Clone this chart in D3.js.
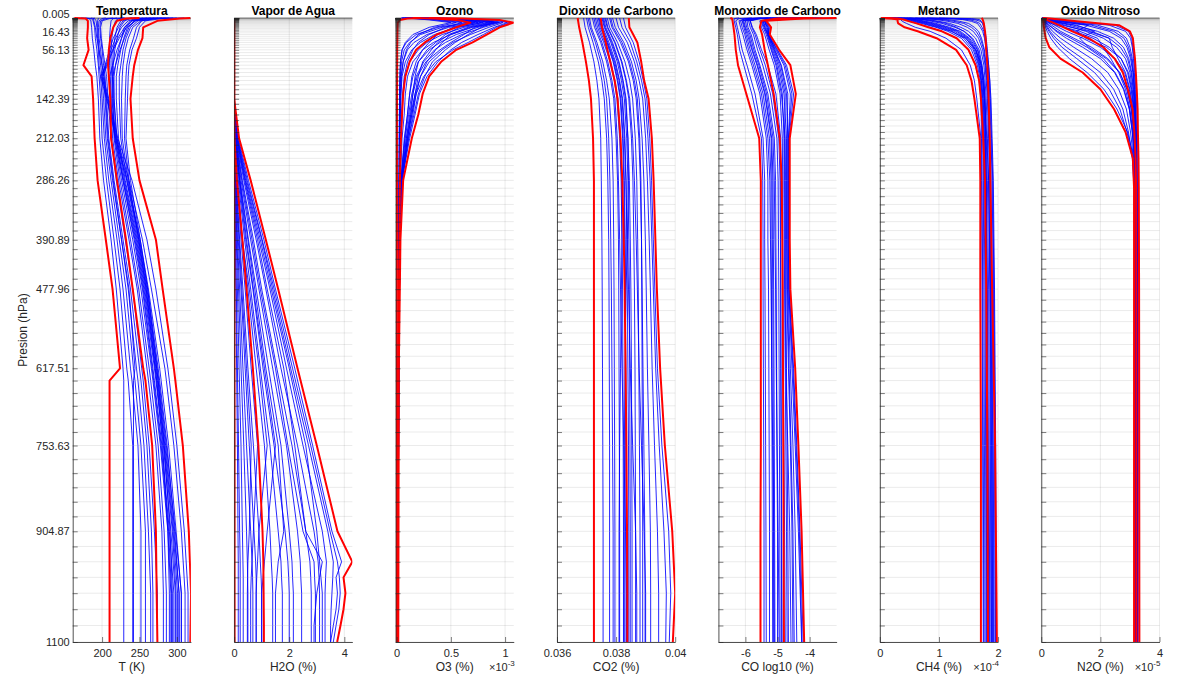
<!DOCTYPE html>
<html><head><meta charset="utf-8">
<script src="https://cdn.jsdelivr.net/npm/d3@7"></script>
<style>
body{margin:0;background:#fff}
svg{display:block}
text{font-family:"Liberation Sans",Arial,Helvetica,sans-serif}
</style>
</head><body>
<svg id="c" width="1200" height="682"></svg>
<script>
// ---- pressure levels (AIRS 101 levels, hPa) ----
const levels = [0.005,0.0161,0.0384,0.0769,0.137,0.2244,0.3454,0.5064,0.714,0.9753,1.2972,1.6872,2.1526,2.7009,3.3398,4.077,4.9204,5.8776,6.9567,8.1655,9.5119,11.0038,12.6492,14.4559,16.4318,18.5847,20.9224,23.4526,26.1829,29.121,32.2744,35.6505,39.2566,43.1001,47.1882,51.5278,56.126,60.9895,66.1253,71.5398,77.2396,83.231,89.5204,96.1138,103.0172,110.2366,117.7775,125.6456,133.8462,142.3848,151.2664,160.4959,170.0784,180.0183,190.3203,200.9887,212.0277,223.4415,235.2338,247.4085,259.9691,272.9191,286.2617,300,314.1369,328.6753,343.6176,358.9665,374.7241,390.8926,407.4738,424.4698,441.8819,459.7118,477.9607,496.6298,515.72,535.2322,555.1669,575.5248,596.3062,617.5112,639.1398,661.192,683.6673,706.5654,729.8857,753.6275,777.7897,802.3714,827.3713,852.788,878.6201,904.8659,931.5236,958.5911,986.0666,1013.948,1042.232,1070.917,1100];
const yLabelValues = [0.005,16.4318,56.126,142.3848,212.0277,286.2617,390.8926,477.9607,617.5112,753.6275,904.8659,1100];
const yLabelText = ["0.005","16.43","56.13","142.39","212.03","286.26","390.89","477.96","617.51","753.63","904.87","1100"];

// ---- Temperatura (K) ----
const tLev = [0.005,1,5,16.43,35.65,56.13,83.23,103.02,142.39,212.03,286.26,390.89,477.96,617.51,639.14,753.63,904.87,1013.95,1100];
const tTicks = [200,250,300];
const tMin  = [163,178,181,181,180,182,175,186,188,190,194,205,214,224,210,210,210,210,210];
const tMean = [250,232,220,215,211,209,208,209,211,212,220,232,241,255,258,267,272,273,274];
const tMax  = [318,304,274,255,254,248,243,241,238,241,250,272,281,296,298,308,316,319,318];
const tBlue = [
 [172,183,185,186,187,189,191,193,195,197,202,212,219,228,229,229,229,229,229],
 [178,186,188,190,191,193,195,196,198,200,206,216,224,233,235,241,241,241,241],
 [185,190,192,193,194,195,196,198,200,203,209,220,228,238,240,248,252,252,252],
 [195,195,194,194,195,196,198,200,202,205,212,223,232,242,244,252,258,258,258],
 [205,200,196,195,196,198,200,202,204,207,214,226,235,246,248,256,262,265,265],
 [215,205,198,197,198,200,202,204,206,209,216,228,238,250,252,260,266,268,268],
 [190,188,189,191,193,196,200,203,205,208,215,226,236,244,242,242,242,242,242],
 [230,210,200,198,199,201,204,206,208,212,219,231,241,253,255,263,270,274,274],
 [240,235,228,222,215,210,204,200,207,218,233,250,261,275,277,287,297,303,303],
 [255,245,235,226,218,212,205,198,206,219,234,251,262,277,279,289,299,306,306],
 [270,252,240,230,221,214,206,199,208,220,236,254,266,284,286,296,306,311,311],
 [285,260,245,233,223,215,207,201,209,221,240,260,272,288,290,300,310,315,315],
 [260,248,238,230,226,222,218,216,216,220,230,246,257,271,273,283,294,299,299],
 [275,255,243,234,229,225,221,219,219,222,231,247,258,272,274,284,295,301,301],
 [290,265,248,238,232,228,225,223,223,225,233,248,259,273,275,285,296,303,303],
 [300,272,252,241,235,231,228,227,226,227,235,249,260,274,276,286,298,306,306],
 [310,280,258,250,246,240,236,235,234,232,238,251,261,273,275,283,291,294,294],
 [295,270,253,246,242,237,233,232,231,230,236,249,259,271,273,281,288,290,290],
 [230,222,218,215,213,212,212,213,214,216,224,238,249,263,265,275,283,286,286],
 [245,232,225,220,217,215,214,214,215,217,226,241,252,266,268,278,288,292,292],
 [220,215,212,211,210,210,210,211,212,214,222,236,247,260,262,272,280,282,282],
 [265,250,240,232,226,220,214,210,211,217,228,244,255,268,270,280,290,296,296],
 [280,258,244,236,230,224,218,214,213,218,229,245,256,270,272,282,292,298,298],
 [250,238,230,224,220,217,215,215,216,219,228,243,254,267,269,279,289,293,293]
];

// ---- Vapor de Agua (%) ----
const hLev = [0.005,142.39,212.03,286.26,390.89,477.96,617.51,753.63,904.87,958.59,986.07,1013.95,1042.23,1070.92,1100];
const hTicks = [0,2,4];
const hMin  = [0,0,0,0.005,0.01,0.01,0.012,0.015,0.015,0.015,0.015,0.015,0.015,0.015,0.015];
const hMean = [0,0,0.01,0.1,0.3,0.45,0.68,0.88,1.03,1.06,1.065,1.07,1.075,1.08,1.08];
const hMax  = [0,0,0.18,0.6,1.15,1.6,2.3,3.0,3.75,4.29,3.97,4.04,3.97,3.86,3.74];
const hBlue = [
 [0,0,0.01,0.02,0.05,0.08,0.12,0.16,0.2,0.22,0.22,0.22,0.22,0.22,0.22],
 [0,0,0.01,0.03,0.08,0.12,0.18,0.25,0.3,0.32,0.33,0.33,0.33,0.33,0.33],
 [0,0,0.01,0.04,0.1,0.16,0.25,0.35,0.45,0.48,0.49,0.5,0.5,0.5,0.5],
 [0,0,0.02,0.05,0.12,0.2,0.32,0.45,0.6,0.65,0.67,0.68,0.68,0.68,0.68],
 [0,0,0.02,0.06,0.15,0.25,0.4,0.55,0.72,0.78,0.8,0.8,0.8,0.8,0.8],
 [0,0,0.03,0.08,0.2,0.32,0.5,0.7,0.9,0.95,0.98,1.0,1.0,1.0,1.0],
 [0,0,0.02,0.1,0.25,0.4,0.62,0.85,0.7,0.65,0.62,0.6,0.6,0.6,0.6],
 [0,0,0.03,0.12,0.3,0.5,0.8,1.1,1.3,1.35,1.38,1.4,1.4,1.4,1.4],
 [0,0,0.04,0.15,0.38,0.6,0.95,1.3,1.6,1.7,1.72,1.75,1.75,1.75,1.75],
 [0,0,0.05,0.2,0.45,0.7,1.1,1.5,1.2,1.1,1.05,1.0,1.0,1.0,1.0],
 [0,0,0.05,0.22,0.52,0.8,1.25,1.7,2.0,2.1,2.12,2.15,2.15,2.15,2.15],
 [0,0,0.06,0.25,0.6,0.9,1.4,1.9,2.3,2.4,2.42,2.45,2.45,2.45,2.45],
 [0,0,0.07,0.3,0.7,1.0,1.55,2.1,2.6,2.75,2.78,2.8,2.8,2.8,2.8],
 [0,0,0.08,0.35,0.8,1.15,1.7,2.3,2.9,3.05,3.08,3.1,3.1,3.1,3.1],
 [0,0,0.1,0.4,0.9,1.3,1.9,2.5,3.2,3.35,3.32,3.3,3.3,3.3,3.3],
 [0,0,0.12,0.45,1.0,1.4,2.05,2.7,3.4,3.6,3.58,3.55,3.52,3.5,3.5],
 [0,0,0.04,0.18,0.42,0.68,1.05,1.45,1.85,1.95,1.98,2.0,2.0,2.0,2.0],
 [0,0,0.03,0.1,0.3,0.55,0.9,1.2,0.9,0.85,0.82,0.8,0.8,0.8,0.8],
 [0,0,0.06,0.28,0.65,0.95,1.5,1.95,2.5,2.9,2.92,2.95,2.95,2.95,2.95],
 [0,0,0.02,0.07,0.18,0.28,0.45,0.62,0.55,0.5,0.49,0.48,0.48,0.48,0.48],
 [0,0,0.09,0.38,0.85,1.2,1.8,2.2,2.6,3.2,3.1,3.0,2.95,2.9,2.9],
 [0,0,0.01,0.02,0.04,0.06,0.09,0.12,0.14,0.15,0.15,0.15,0.15,0.15,0.15],
 [0,0,0.05,0.2,0.5,0.75,1.15,1.6,1.8,1.6,1.55,1.5,1.5,1.5,1.5],
 [0,0,0.11,0.42,0.95,1.35,2.0,2.6,3.0,3.1,3.15,3.2,3.2,3.2,3.2],
 [0,0,0.15,0.52,1.08,1.5,2.2,2.85,3.55,3.9,3.7,3.75,3.7,3.6,3.5],
 [0,0,0.13,0.48,1.02,1.45,2.12,2.78,3.48,3.75,3.82,3.85,3.8,3.7,3.6]
];

// ---- Ozono (% x1e-3) ----
const oLev = [0.005,1,3.34,8.17,16.43,29.12,43.1,56.13,77.24,103.02,133.85,170.08,212.03,286.26,390.89,617.51,904.87,1100];
const oTicks = [0,0.5,1];
const oMin  = [0.22,0.1,0.03,0.01,0.008,0.007,0.006,0.005,0.005,0.004,0.004,0.003,0.003,0.003,0.003,0.002,0.002,0.002];
const oMean = [0.15,0.35,0.55,0.68,0.55,0.37,0.26,0.18,0.12,0.08,0.06,0.05,0.04,0.03,0.025,0.015,0.012,0.01];
const oMax  = [0.3,0.6,0.95,1.08,0.95,0.83,0.70,0.55,0.41,0.30,0.24,0.20,0.14,0.06,0.035,0.02,0.017,0.015];
const oBlue = [
 [0.25,0.55,0.9,1.02,0.9,0.75,0.6,0.5,0.38,0.28,0.21,0.17,0.12,0.05,0.03,0.02,0.015,0.012],
 [0.2,0.5,0.85,0.98,0.85,0.68,0.52,0.42,0.3,0.22,0.17,0.13,0.1,0.05,0.03,0.02,0.015,0.012],
 [0.18,0.45,0.8,0.95,0.8,0.6,0.45,0.35,0.25,0.18,0.14,0.11,0.08,0.04,0.03,0.02,0.015,0.012],
 [0.15,0.42,0.75,0.92,0.75,0.55,0.4,0.3,0.2,0.15,0.12,0.1,0.07,0.04,0.025,0.018,0.014,0.012],
 [0.12,0.38,0.7,0.88,0.7,0.5,0.34,0.24,0.15,0.1,0.08,0.07,0.05,0.035,0.025,0.018,0.014,0.012],
 [0.1,0.35,0.65,0.84,0.62,0.42,0.28,0.2,0.12,0.08,0.06,0.05,0.04,0.03,0.025,0.018,0.014,0.012],
 [0.1,0.3,0.6,0.8,0.55,0.35,0.22,0.14,0.08,0.05,0.04,0.035,0.03,0.025,0.02,0.016,0.013,0.011],
 [0.08,0.28,0.55,0.75,0.48,0.28,0.16,0.1,0.06,0.04,0.035,0.03,0.028,0.025,0.02,0.016,0.013,0.011],
 [0.08,0.25,0.5,0.7,0.42,0.22,0.12,0.07,0.045,0.035,0.03,0.028,0.026,0.024,0.02,0.016,0.013,0.011],
 [0.06,0.22,0.45,0.65,0.38,0.18,0.09,0.05,0.035,0.03,0.028,0.026,0.025,0.023,0.02,0.016,0.013,0.011],
 [0.3,0.6,0.92,1.05,0.92,0.8,0.66,0.52,0.36,0.25,0.18,0.14,0.1,0.045,0.03,0.02,0.015,0.012],
 [0.22,0.48,0.82,0.9,0.72,0.62,0.5,0.4,0.27,0.19,0.15,0.12,0.09,0.04,0.028,0.018,0.014,0.012],
 [0.14,0.4,0.72,0.86,0.66,0.48,0.38,0.32,0.24,0.2,0.17,0.14,0.1,0.045,0.03,0.02,0.015,0.012],
 [0.12,0.36,0.66,0.78,0.58,0.45,0.36,0.28,0.2,0.17,0.15,0.13,0.09,0.045,0.03,0.02,0.015,0.012],
 [0.1,0.32,0.62,0.72,0.52,0.38,0.3,0.24,0.18,0.14,0.12,0.1,0.075,0.04,0.028,0.018,0.014,0.012],
 [0.05,0.2,0.4,0.6,0.45,0.3,0.2,0.15,0.1,0.07,0.055,0.045,0.04,0.03,0.022,0.016,0.013,0.011],
 [0.05,0.18,0.35,0.55,0.35,0.2,0.13,0.09,0.06,0.045,0.038,0.033,0.03,0.025,0.02,0.015,0.012,0.01],
 [0.04,0.15,0.3,0.5,0.3,0.15,0.08,0.05,0.035,0.03,0.027,0.025,0.023,0.02,0.018,0.015,0.012,0.01],
 [0.18,0.46,0.78,0.9,0.78,0.66,0.54,0.45,0.33,0.26,0.2,0.16,0.11,0.05,0.03,0.02,0.015,0.012],
 [0.16,0.44,0.76,0.94,0.68,0.5,0.42,0.36,0.28,0.22,0.18,0.15,0.11,0.05,0.03,0.02,0.015,0.012]
];

// ---- Dioxido de Carbono (%) ----
const kLev = [0.005,16.43,43.1,77.24,110.24,142.39,212.03,286.26,390.89,477.96,617.51,753.63,904.87,1013.95,1100];
const kTicks = [0.036,0.038,0.04];
const kMin  = [0.03670,0.03675,0.03686,0.03698,0.03708,0.03715,0.03722,0.03725,0.03725,0.03725,0.03725,0.03725,0.03725,0.03725,0.03725];
const kMean = [0.03748,0.03752,0.03765,0.03780,0.03795,0.03805,0.03815,0.03821,0.03826,0.03829,0.03832,0.03835,0.03837,0.03838,0.03838];
const kMax  = [0.03843,0.03845,0.03872,0.03885,0.03895,0.03910,0.03921,0.03927,0.03933,0.03938,0.03949,0.03965,0.03990,0.04000,0.03992];
const kBlue = [
 [0.03690,0.03695,0.03710,0.03725,0.03735,0.03742,0.03748,0.03750,0.03752,0.03753,0.03754,0.03755,0.03756,0.03756,0.03756],
 [0.03700,0.03706,0.03722,0.03740,0.03752,0.03760,0.03768,0.03772,0.03775,0.03776,0.03777,0.03778,0.03778,0.03778,0.03778],
 [0.03710,0.03716,0.03735,0.03755,0.03768,0.03777,0.03786,0.03790,0.03792,0.03793,0.03794,0.03795,0.03796,0.03796,0.03796],
 [0.03720,0.03727,0.03748,0.03768,0.03782,0.03792,0.03800,0.03805,0.03808,0.03809,0.03810,0.03811,0.03812,0.03812,0.03812],
 [0.03730,0.03737,0.03758,0.03780,0.03794,0.03803,0.03812,0.03817,0.03820,0.03822,0.03823,0.03824,0.03825,0.03825,0.03825],
 [0.03740,0.03746,0.03768,0.03790,0.03804,0.03814,0.03822,0.03826,0.03829,0.03831,0.03833,0.03834,0.03835,0.03835,0.03835],
 [0.03748,0.03755,0.03776,0.03798,0.03812,0.03822,0.03830,0.03834,0.03836,0.03838,0.03840,0.03842,0.03843,0.03843,0.03843],
 [0.03755,0.03762,0.03785,0.03808,0.03822,0.03832,0.03840,0.03845,0.03848,0.03850,0.03852,0.03853,0.03854,0.03854,0.03854],
 [0.03762,0.03770,0.03795,0.03818,0.03833,0.03843,0.03852,0.03857,0.03860,0.03862,0.03864,0.03865,0.03866,0.03866,0.03866],
 [0.03770,0.03778,0.03805,0.03830,0.03846,0.03856,0.03865,0.03870,0.03873,0.03875,0.03877,0.03879,0.03881,0.03881,0.03881],
 [0.03778,0.03786,0.03815,0.03842,0.03858,0.03868,0.03877,0.03882,0.03886,0.03888,0.03891,0.03894,0.03897,0.03898,0.03898],
 [0.03788,0.03797,0.03826,0.03852,0.03868,0.03878,0.03888,0.03894,0.03899,0.03902,0.03906,0.03911,0.03916,0.03917,0.03917],
 [0.03800,0.03808,0.03838,0.03862,0.03878,0.03890,0.03900,0.03906,0.03912,0.03916,0.03922,0.03930,0.03940,0.03944,0.03944],
 [0.03812,0.03820,0.03848,0.03870,0.03886,0.03898,0.03908,0.03915,0.03921,0.03926,0.03934,0.03946,0.03962,0.03970,0.03968],
 [0.03825,0.03832,0.03858,0.03878,0.03892,0.03904,0.03914,0.03920,0.03926,0.03931,0.03940,0.03955,0.03978,0.03985,0.03980],
 [0.03735,0.03742,0.03762,0.03782,0.03796,0.03806,0.03815,0.03819,0.03820,0.03818,0.03815,0.03812,0.03810,0.03810,0.03810],
 [0.03758,0.03765,0.03788,0.03810,0.03824,0.03834,0.03840,0.03842,0.03838,0.03834,0.03830,0.03828,0.03827,0.03827,0.03827],
 [0.03745,0.03752,0.03772,0.03795,0.03810,0.03820,0.03828,0.03833,0.03838,0.03842,0.03848,0.03856,0.03866,0.03870,0.03870],
 [0.03765,0.03772,0.03797,0.03820,0.03835,0.03846,0.03856,0.03862,0.03868,0.03872,0.03878,0.03886,0.03895,0.03900,0.03900],
 [0.03725,0.03732,0.03752,0.03772,0.03786,0.03796,0.03804,0.03808,0.03812,0.03815,0.03820,0.03826,0.03832,0.03835,0.03835],
 [0.03752,0.03760,0.03782,0.03804,0.03818,0.03828,0.03836,0.03840,0.03843,0.03845,0.03846,0.03847,0.03848,0.03848,0.03848],
 [0.03782,0.03790,0.03820,0.03846,0.03862,0.03872,0.03880,0.03884,0.03886,0.03887,0.03888,0.03889,0.03890,0.03890,0.03890],
 [0.03705,0.03712,0.03730,0.03748,0.03760,0.03768,0.03775,0.03779,0.03782,0.03784,0.03786,0.03788,0.03790,0.03790,0.03790],
 [0.03742,0.03750,0.03770,0.03792,0.03806,0.03816,0.03824,0.03828,0.03831,0.03832,0.03832,0.03831,0.03830,0.03830,0.03830]
];

// ---- Monoxido de Carbono (log10 %) ----
const qLev = [0.005,1,5,16.43,29.12,56.13,83.23,133.85,212.03,286.26,390.89,477.96,617.51,753.63,904.87,1100];
const qTicks = [-6,-5,-4];
const qMin  = [-6.47,-6.42,-6.4,-6.37,-6.34,-6.3,-6.23,-5.97,-5.57,-5.52,-5.52,-5.52,-5.52,-5.52,-5.53,-5.53];
const qMean = [-3.9,-5.0,-5.5,-5.55,-5.48,-5.4,-5.3,-5.12,-4.93,-4.87,-4.85,-4.84,-4.83,-4.82,-4.81,-4.8];
const qMax  = [-3.16,-4.2,-5.35,-5.2,-5.24,-4.95,-4.6,-4.43,-4.62,-4.62,-4.62,-4.6,-4.45,-4.35,-4.25,-4.17];
const qBlue = [
 [-5.8,-6.2,-6.3,-6.25,-6.2,-6.1,-5.95,-5.7,-5.45,-5.4,-5.4,-5.39,-5.38,-5.37,-5.36,-5.35],
 [-5.5,-6.0,-6.2,-6.15,-6.08,-5.95,-5.8,-5.55,-5.35,-5.3,-5.3,-5.28,-5.27,-5.26,-5.25,-5.25],
 [-5.2,-5.9,-6.1,-6.05,-5.98,-5.85,-5.7,-5.45,-5.25,-5.2,-5.2,-5.19,-5.18,-5.17,-5.16,-5.15],
 [-5.0,-5.8,-6.05,-6.0,-5.9,-5.78,-5.62,-5.38,-5.18,-5.14,-5.13,-5.12,-5.11,-5.1,-5.09,-5.08],
 [-4.8,-5.7,-5.95,-5.92,-5.82,-5.7,-5.55,-5.3,-5.1,-5.06,-5.05,-5.04,-5.03,-5.02,-5.0,-5.0],
 [-4.6,-5.6,-5.9,-5.85,-5.75,-5.62,-5.46,-5.22,-5.02,-4.98,-4.97,-4.96,-4.95,-4.94,-4.93,-4.92],
 [-4.4,-5.5,-5.85,-5.8,-5.7,-5.55,-5.38,-5.15,-4.96,-4.92,-4.91,-4.9,-4.89,-4.88,-4.87,-4.86],
 [-6.2,-6.35,-6.35,-6.3,-6.25,-6.18,-6.05,-5.8,-5.5,-5.46,-5.45,-5.45,-5.44,-5.43,-5.42,-5.42],
 [-5.3,-6.0,-6.15,-6.1,-6.02,-5.9,-5.75,-5.5,-5.3,-5.24,-5.22,-5.2,-5.18,-5.15,-5.12,-5.1],
 [-4.9,-5.75,-6.0,-5.96,-5.86,-5.74,-5.58,-5.34,-5.14,-5.1,-5.08,-5.06,-5.04,-5.01,-4.98,-4.95],
 [-4.2,-5.0,-5.45,-5.4,-5.3,-5.15,-4.98,-4.8,-4.72,-4.72,-4.72,-4.71,-4.66,-4.6,-4.55,-4.52],
 [-4.0,-4.8,-5.4,-5.35,-5.28,-5.1,-4.9,-4.72,-4.68,-4.68,-4.68,-4.67,-4.6,-4.52,-4.45,-4.4],
 [-3.8,-4.6,-5.42,-5.3,-5.3,-5.05,-4.8,-4.6,-4.66,-4.66,-4.66,-4.65,-4.55,-4.45,-4.35,-4.25],
 [-3.6,-4.5,-5.38,-5.25,-5.27,-5.0,-4.72,-4.5,-4.64,-4.65,-4.65,-4.63,-4.5,-4.4,-4.3,-4.2],
 [-4.4,-5.1,-5.5,-5.45,-5.35,-5.2,-5.05,-4.88,-4.76,-4.75,-4.75,-4.74,-4.72,-4.7,-4.68,-4.66],
 [-4.3,-5.05,-5.48,-5.42,-5.32,-5.18,-5.02,-4.85,-4.8,-4.8,-4.79,-4.78,-4.76,-4.74,-4.72,-4.7],
 [-3.9,-4.7,-5.4,-5.32,-5.26,-5.08,-4.88,-4.68,-4.7,-4.7,-4.7,-4.69,-4.64,-4.58,-4.52,-4.48],
 [-4.1,-4.9,-5.44,-5.38,-5.3,-5.12,-4.94,-4.76,-4.78,-4.78,-4.77,-4.76,-4.74,-4.68,-4.62,-4.58],
 [-4.5,-5.2,-5.55,-5.5,-5.4,-5.26,-5.1,-4.92,-4.85,-4.84,-4.84,-4.83,-4.82,-4.8,-4.78,-4.76],
 [-3.7,-4.55,-5.38,-5.28,-5.28,-5.02,-4.76,-4.55,-4.66,-4.66,-4.66,-4.64,-4.52,-4.42,-4.32,-4.24],
 [-4.7,-5.6,-5.85,-5.78,-5.66,-5.5,-5.3,-5.05,-4.9,-4.9,-4.9,-4.9,-4.9,-4.89,-4.88,-4.87],
 [-5.1,-5.85,-6.08,-6.02,-5.94,-5.8,-5.64,-5.4,-5.2,-5.17,-5.16,-5.15,-5.14,-5.13,-5.12,-5.12]
];

// ---- Metano (% x1e-4) ----
const mLev = [0.005,1,2.7,5.88,9.51,16.43,23.45,35.65,56.13,83.23,110.24,142.39,212.03,286.26,477.96,753.63,1100];
const mTicks = [0,1,2];
const mMin  = [0.02,0.2,0.3,0.3,0.31,0.42,0.64,0.96,1.29,1.47,1.55,1.6,1.69,1.70,1.70,1.71,1.71];
const mMean = [0.05,0.3,0.4,0.5,0.62,0.82,1.05,1.3,1.5,1.62,1.68,1.71,1.75,1.78,1.8,1.82,1.83];
const mMax  = [1.72,1.73,1.74,1.75,1.76,1.77,1.78,1.79,1.8,1.82,1.83,1.84,1.86,1.87,1.9,1.95,1.98];
const mBlue = [
 [0.1,0.35,0.45,0.55,0.7,0.95,1.15,1.38,1.55,1.65,1.7,1.72,1.74,1.75,1.76,1.77,1.78],
 [0.15,0.4,0.5,0.62,0.78,1.02,1.22,1.42,1.58,1.67,1.71,1.73,1.75,1.76,1.78,1.79,1.8],
 [0.2,0.45,0.55,0.7,0.86,1.1,1.3,1.48,1.62,1.69,1.72,1.74,1.76,1.78,1.8,1.81,1.82],
 [0.25,0.5,0.62,0.78,0.95,1.18,1.36,1.52,1.65,1.71,1.74,1.76,1.78,1.8,1.82,1.83,1.84],
 [0.3,0.55,0.7,0.88,1.05,1.27,1.43,1.57,1.68,1.73,1.76,1.78,1.8,1.82,1.84,1.85,1.86],
 [0.35,0.6,0.8,1.0,1.18,1.37,1.5,1.62,1.71,1.76,1.78,1.8,1.82,1.84,1.86,1.87,1.88],
 [0.4,0.7,0.95,1.15,1.32,1.48,1.58,1.67,1.74,1.78,1.8,1.82,1.84,1.86,1.88,1.9,1.91],
 [0.5,0.85,1.15,1.35,1.5,1.6,1.67,1.72,1.77,1.8,1.82,1.84,1.86,1.88,1.9,1.92,1.93],
 [0.6,1.1,1.4,1.55,1.65,1.7,1.74,1.77,1.8,1.83,1.85,1.86,1.88,1.9,1.92,1.94,1.95],
 [0.8,1.35,1.6,1.7,1.74,1.76,1.78,1.8,1.82,1.84,1.86,1.88,1.9,1.92,1.94,1.96,1.97],
 [1.0,1.55,1.68,1.72,1.74,1.76,1.77,1.79,1.8,1.82,1.83,1.84,1.85,1.87,1.89,1.91,1.92],
 [0.08,0.32,0.42,0.5,0.62,0.85,1.05,1.3,1.5,1.62,1.68,1.71,1.72,1.73,1.74,1.75,1.76],
 [0.12,0.38,0.48,0.58,0.74,0.98,1.2,1.45,1.62,1.72,1.76,1.78,1.79,1.8,1.81,1.82,1.83],
 [0.22,0.48,0.58,0.74,0.9,1.14,1.33,1.5,1.63,1.7,1.74,1.77,1.81,1.84,1.87,1.89,1.9],
 [0.45,0.78,1.05,1.25,1.42,1.55,1.63,1.7,1.76,1.79,1.81,1.83,1.85,1.86,1.87,1.88,1.89],
 [0.3,0.58,0.75,0.95,1.12,1.3,1.42,1.55,1.66,1.72,1.75,1.77,1.79,1.8,1.81,1.83,1.85],
 [0.7,1.2,1.5,1.62,1.69,1.73,1.76,1.78,1.81,1.84,1.86,1.87,1.89,1.91,1.93,1.95,1.96],
 [0.18,0.42,0.52,0.66,0.82,1.06,1.26,1.46,1.6,1.68,1.72,1.75,1.77,1.79,1.8,1.8,1.81],
 [0.05,0.25,0.35,0.38,0.45,0.6,0.85,1.12,1.38,1.53,1.6,1.64,1.71,1.72,1.73,1.74,1.75]
];

// ---- Oxido Nitroso (% x1e-5) ----
const nLev = [0.005,1,5.88,12.65,23.45,35.65,51.53,71.54,96.11,125.65,160.5,200.99,247.41,300,477.96,1100];
const nTicks = [0,2,4];
const nMin  = [0.05,0.05,0.07,0.08,0.11,0.15,0.27,0.65,1.4,2.0,2.46,2.85,3.1,3.14,3.14,3.14];
const nMean = [0.05,0.1,0.3,0.6,1.05,1.6,2.1,2.48,2.76,2.93,3.09,3.15,3.19,3.21,3.22,3.22];
const nMax  = [0.05,0.3,1.2,2.63,3.0,3.1,3.13,3.17,3.2,3.23,3.26,3.27,3.29,3.3,3.31,3.32];
const nBlue = [
 [0.05,0.25,1.0,2.3,2.85,3.02,3.08,3.12,3.15,3.18,3.2,3.22,3.24,3.25,3.26,3.26],
 [0.05,0.2,0.8,1.9,2.6,2.88,3.0,3.08,3.12,3.16,3.19,3.21,3.23,3.24,3.25,3.25],
 [0.05,0.15,0.6,1.5,2.3,2.7,2.9,3.02,3.1,3.14,3.18,3.2,3.22,3.23,3.24,3.24],
 [0.05,0.12,0.45,1.1,1.9,2.45,2.78,2.96,3.06,3.12,3.16,3.19,3.21,3.22,3.23,3.23],
 [0.05,0.1,0.35,0.8,1.5,2.1,2.55,2.85,3.0,3.08,3.14,3.18,3.2,3.21,3.22,3.22],
 [0.05,0.09,0.28,0.6,1.15,1.75,2.3,2.7,2.92,3.04,3.12,3.17,3.19,3.2,3.21,3.21],
 [0.05,0.08,0.22,0.45,0.85,1.4,2.0,2.5,2.82,2.98,3.08,3.15,3.18,3.19,3.2,3.2],
 [0.05,0.07,0.18,0.35,0.65,1.1,1.7,2.25,2.66,2.9,3.04,3.12,3.17,3.18,3.19,3.19],
 [0.05,0.07,0.14,0.28,0.5,0.85,1.4,2.0,2.48,2.78,2.98,3.08,3.15,3.17,3.18,3.18],
 [0.05,0.06,0.12,0.22,0.38,0.65,1.1,1.7,2.25,2.62,2.88,3.02,3.12,3.16,3.17,3.17],
 [0.05,0.06,0.1,0.18,0.3,0.5,0.85,1.4,2.0,2.45,2.76,2.95,3.1,3.15,3.16,3.16],
 [0.05,0.3,1.1,2.5,2.95,3.06,3.1,3.14,3.17,3.2,3.23,3.25,3.27,3.28,3.28,3.28],
 [0.05,0.1,0.5,1.6,1.2,1.5,2.2,2.7,2.95,3.06,3.13,3.17,3.2,3.21,3.22,3.22],
 [0.05,0.08,0.3,1.2,1.8,1.3,1.6,2.2,2.65,2.9,3.05,3.13,3.18,3.2,3.21,3.21],
 [0.05,0.1,0.25,0.7,1.6,2.3,2.4,2.6,2.85,3.0,3.1,3.16,3.19,3.2,3.21,3.21],
 [0.05,0.07,0.15,0.5,1.3,1.9,2.1,2.35,2.62,2.85,3.0,3.1,3.16,3.18,3.19,3.19],
 [0.05,0.06,0.11,0.25,0.55,1.0,1.55,2.1,2.5,2.8,2.98,3.08,3.14,3.17,3.18,3.18],
 [0.05,0.18,0.7,1.7,2.45,2.8,2.95,3.05,3.11,3.15,3.18,3.21,3.23,3.24,3.25,3.25],
 [0.05,0.06,0.09,0.15,0.26,0.42,0.7,1.2,1.8,2.3,2.66,2.9,3.08,3.14,3.15,3.15],
 [0.05,0.11,0.4,0.95,1.7,2.3,2.68,2.92,3.04,3.11,3.16,3.2,3.22,3.23,3.24,3.24],
 [0.05,0.06,0.08,0.12,0.2,0.32,0.55,0.95,1.55,2.12,2.56,2.92,3.13,3.15,3.16,3.16]
];

// ---- panel configuration ----
const panels = [
 {title:"Temperatura", xlabel:"T (K)", exp:null, domain:[160.7,318.8], ticks:tTicks, lev:tLev, blue:tBlue, red:[tMin,tMean,tMax]},
 {title:"Vapor de Agua", xlabel:"H2O (%)", exp:null, domain:[0,4.29], ticks:hTicks, lev:hLev, blue:hBlue, red:[hMin,hMean,hMax]},
 {title:"Ozono", xlabel:"O3 (%)", exp:"-3", domain:[-0.01,1.08], ticks:oTicks, lev:oLev, blue:oBlue, red:[oMin,oMean,oMax]},
 {title:"Dioxido de Carbono", xlabel:"CO2 (%)", exp:null, domain:[0.036,0.04], ticks:kTicks, lev:kLev, blue:kBlue, red:[kMin,kMean,kMax]},
 {title:"Monoxido de Carbono", xlabel:"CO log10 (%)", exp:null, domain:[-6.84,-3.16], ticks:qTicks, lev:qLev, blue:qBlue, red:[qMin,qMean,qMax]},
 {title:"Metano", xlabel:"CH4 (%)", exp:"-4", domain:[0,2], ticks:mTicks, lev:mLev, blue:mBlue, red:[mMin,mMean,mMax]},
 {title:"Oxido Nitroso", xlabel:"N2O (%)", exp:"-5", domain:[0,4], ticks:nTicks, lev:nLev, blue:nBlue, red:[nMin,nMean,nMax]}
];

const svg = d3.select("#c");
const TOP = 18, BOT = 642, LEFT0 = 72.7, STEP = 161.43, W = 118.2;
const AX = "#262626";
const y = d3.scaleLinear().domain([0.005, 1100]).range([TOP, BOT]);

svg.append("text").attr("transform", `translate(27,${(TOP+BOT)/2}) rotate(-90)`)
  .attr("text-anchor","middle").attr("font-size","12px").attr("fill",AX).text("Presion (hPa)");

panels.forEach((P, i) => {
  const L = LEFT0 + i*STEP, R = L + W;
  const x = d3.scaleLinear().domain(P.domain).range([L, R]);
  const g = svg.append("g");

  // grid
  g.append("g").selectAll("line").data(levels).join("line")
    .attr("x1", L).attr("x2", R).attr("y1", d=>y(d)).attr("y2", d=>y(d))
    .attr("stroke", AX).attr("stroke-opacity", 0.12).attr("stroke-width", 0.8);
  g.append("g").selectAll("line").data(P.ticks).join("line")
    .attr("x1", d=>x(d)).attr("x2", d=>x(d)).attr("y1", TOP).attr("y2", BOT)
    .attr("stroke", AX).attr("stroke-opacity", 0.12).attr("stroke-width", 0.8);

  // clip
  const cid = "clip"+i;
  svg.append("clipPath").attr("id", cid).append("rect")
    .attr("x", L).attr("y", TOP-1).attr("width", W).attr("height", BOT-TOP+1);

  const line = d3.line().x(d=>x(d.v)).y(d=>y(d.p));
  const toPts = vals => P.lev.map((p,k)=>({p, v: vals[k]}));
  const lines = g.append("g").attr("clip-path", `url(#${cid})`);
  lines.selectAll("path.b").data(P.blue).join("path").attr("class","b")
    .attr("d", d=>line(toPts(d))).attr("fill","none")
    .attr("stroke","#0000ff").attr("stroke-width",1).attr("stroke-opacity",0.85);
  lines.selectAll("path.r").data(P.red).join("path").attr("class","r")
    .attr("d", d=>line(toPts(d))).attr("fill","none")
    .attr("stroke","#ff0000").attr("stroke-width",2).attr("stroke-linejoin","round");

  // axes
  const yAxis = d3.axisLeft(y).tickValues(levels).tickSize(-5).tickSizeOuter(0).tickPadding(3)
    .tickFormat(d => { if (i !== 0) return ""; const k = yLabelValues.indexOf(d); return k >= 0 ? yLabelText[k] : ""; });
  const ya = g.append("g").attr("transform", `translate(${L},0)`).call(yAxis);
  const xAxis = d3.axisBottom(x).tickValues(P.ticks).tickSize(-5).tickSizeOuter(0).tickPadding(7)
    .tickFormat(d => String(d));
  const xa = g.append("g").attr("transform", `translate(0,${BOT})`).call(xAxis);
  [ya, xa].forEach(a => {
    a.select(".domain").attr("stroke", AX).attr("stroke-width", 0.8);
    a.selectAll(".tick line").attr("stroke", AX).attr("stroke-width", 0.6);
    a.selectAll(".tick text").attr("fill", AX).attr("font-size", "11px")
      .style("font-family", '"Liberation Sans",Arial,sans-serif');
  });
  // keep the two topmost pressure labels from colliding
  if (i === 0) {
    ya.selectAll(".tick text").filter(d => d === 0.005).attr("dy", "-0.05em");
    ya.selectAll(".tick text").filter(d => d === 16.4318).attr("dy", "0.75em");
  }

  // title
  g.append("text").attr("x", (L+R)/2).attr("y", 15).attr("text-anchor","middle")
    .attr("font-size","12px").attr("font-weight","bold").attr("fill","#000").text(P.title);
  // x label
  g.append("text").attr("x", (L+R)/2).attr("y", 671).attr("text-anchor","middle")
    .attr("font-size","12px").attr("fill",AX).text(P.xlabel);
  // exponent
  if (P.exp) {
    const t = g.append("text").attr("x", R+1).attr("y", 671).attr("text-anchor","end")
      .attr("font-size","11px").attr("fill",AX);
    t.append("tspan").text("\u00d710");
    t.append("tspan").attr("font-size","8px").attr("dy","-5").text(P.exp);
  }
});
</script>
</body></html>
